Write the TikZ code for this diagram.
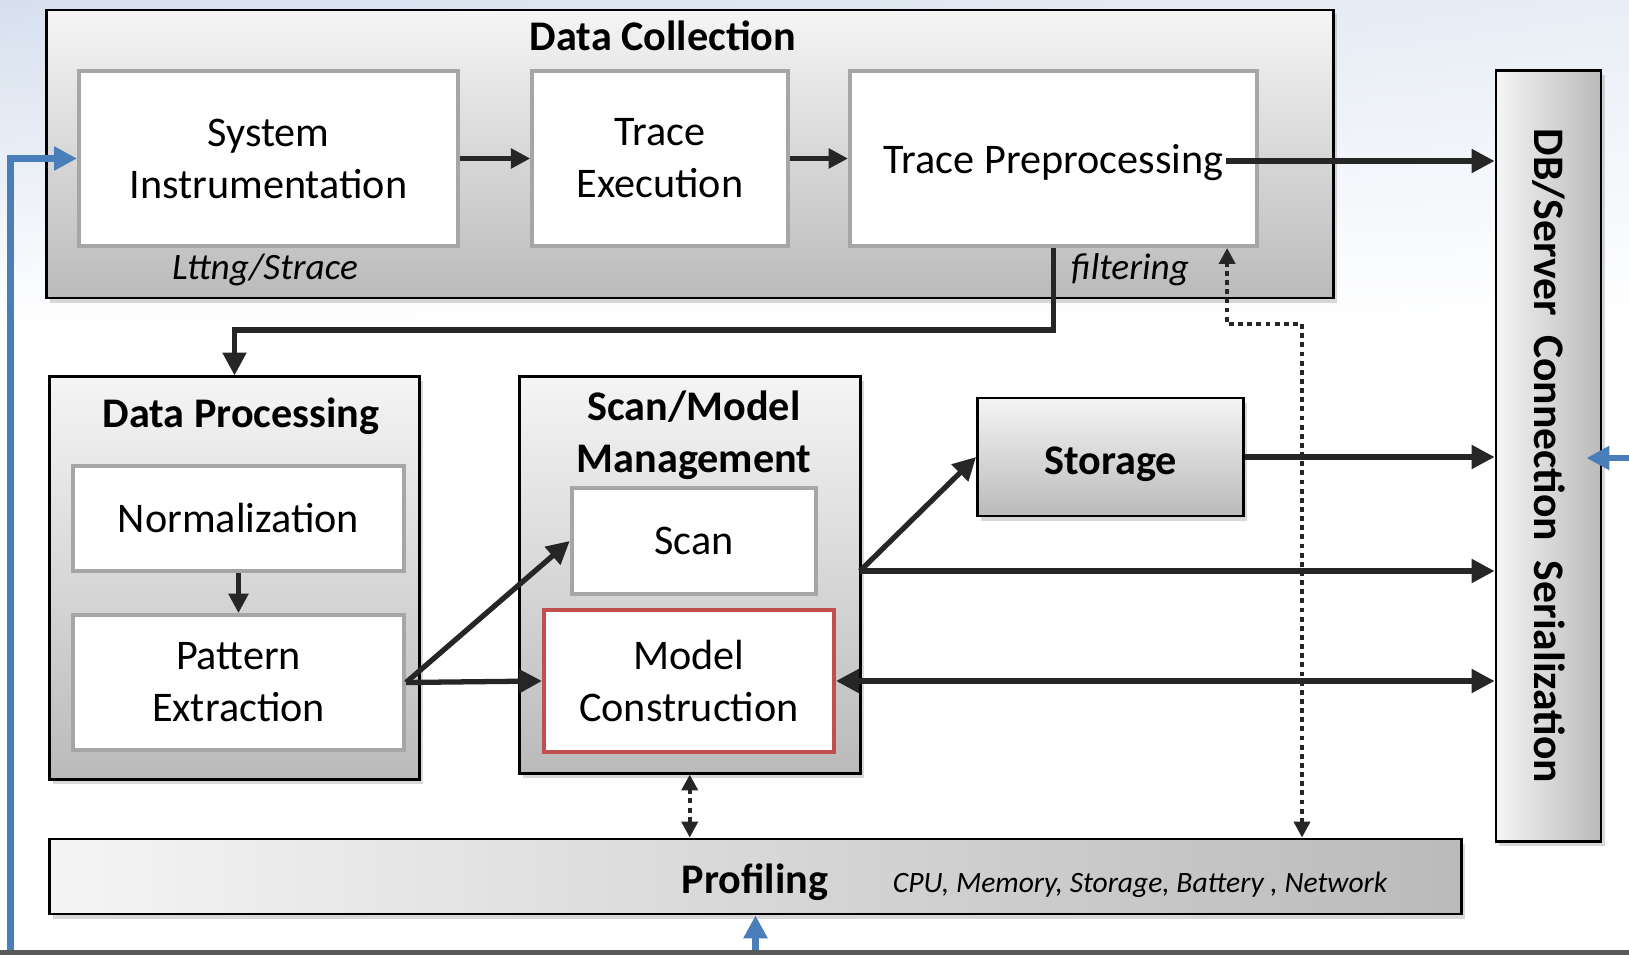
\documentclass[tikz,border=0pt]{standalone}
\usepackage{fontspec}
\setmainfont{Carlito}
\usepackage{graphicx}
\usetikzlibrary{positioning,calc,arrows.meta,shadows,shadings}

\definecolor{bgblue}{HTML}{D6E0EE}
\definecolor{linkblue}{HTML}{4A7EBB}
\definecolor{arrowgray}{HTML}{262626}
\definecolor{framegray}{HTML}{A6A6A6}
\definecolor{modelred}{HTML}{C0504D}
\definecolor{bandgray}{HTML}{595959}

\newcommand{\diafont}{\fontsize{12pt}{14.8pt}\selectfont}
\newcommand{\notefont}{\fontsize{8.4pt}{10pt}\selectfont}

\tikzset{
  blockbox/.style={draw=black, line width=0.8pt, top color=black!4, bottom color=black!27,
    drop shadow={shadow xshift=1pt, shadow yshift=-1.3pt, opacity=0.3}},
  sidebox/.style={draw=black, line width=0.8pt, left color=black!4, right color=black!27,
    drop shadow={shadow xshift=1pt, shadow yshift=-1.3pt, opacity=0.3}},
  stagebox/.style={draw=framegray, line width=1.1pt, fill=white, align=center, font=\diafont},
  titletext/.style={font=\diafont\bfseries, align=center},
  notetext/.style={font=\fontsize{10.6pt}{12pt}\selectfont\itshape},
  flow/.style={arrowgray, line width=1.5pt, -{Triangle[length=6.5pt,width=6.5pt]}},
  thinflow/.style={arrowgray, line width=1.3pt, -{Triangle[length=5.5pt,width=5.5pt]}},
  dotflow/.style={arrowgray, line width=1.2pt, dash pattern=on 1.4pt off 1.2pt,
    {Triangle[length=4.5pt,width=4.5pt]}-{Triangle[length=4.5pt,width=4.5pt]}},
  blueflow/.style={linkblue, line width=1.9pt, -{Triangle[length=6.5pt,width=6.5pt]}}
}

\begin{document}
\begin{tikzpicture}[x=0.01cm, y=-0.01cm]
  \useasboundingbox (0,0) rectangle (1629,955);
  % slide background
  \fill[white] (0,0) rectangle (1629,955);
  \shade[upper left=bgblue, upper right=bgblue!55, lower left=white, lower right=white] (0,0) rectangle (1629,330);

  % data collection
  \node[blockbox, minimum width=12.86cm, minimum height=2.88cm] (collect) at (690,154) {};
  \node[titletext] (collecttitle) at (663,36) {Data Collection};
  \node[stagebox, minimum width=3.79cm, minimum height=1.75cm] (instr) at (268.5,158.5) {System\\Instrumentation};
  \node[stagebox, minimum width=2.555cm, minimum height=1.75cm] (exec) at (660,158.5) {Trace\\Execution};
  \node[stagebox, text depth=0pt, minimum width=4.07cm, minimum height=1.75cm] (prep) at (1053.5,158.5) {Trace Preprocessing};
  \node[notetext] (tooltext) at (265,270) {Lttng/Strace};
  \node[notetext] (filtertext) at (1130,270) {filtering};

  % data processing
  \node[blockbox, minimum width=3.69cm, minimum height=4.02cm] (process) at (234.5,578) {};
  \node[titletext] (processtitle) at (241,416) {Data Processing};
  \node[stagebox, minimum width=3.31cm, minimum height=1.05cm] (norm) at (238.5,518.5) {Normalization};
  \node[stagebox, minimum width=3.31cm, minimum height=1.35cm] (pattern) at (238.5,682.5) {Pattern\\Extraction};

  % scan/model management
  \node[blockbox, minimum width=3.405cm, minimum height=3.96cm] (manage) at (689.75,575) {};
  \node[titletext] (managetitle) at (694,435) {Scan/Model\\Management};
  \node[stagebox, minimum width=2.445cm, minimum height=1.06cm] (scan) at (694,541) {Scan};
  \node[stagebox, draw=modelred, minimum width=2.9cm, minimum height=1.42cm] (model) at (689,681) {Model\\Construction};

  % storage, server, profiling
  \node[blockbox, titletext, text height=10.2pt, text depth=0pt, minimum width=2.66cm, minimum height=1.18cm] (storage) at (1110.6,457) {Storage};
  \node[sidebox, font=\fontsize{12.4pt}{15pt}\selectfont\bfseries, minimum width=1.05cm, minimum height=7.71cm] (server) at (1548.5,456)
    {\rotatebox{-90}{DB/Server\ \ Connection\ \ Serialization}};
  \node[sidebox, minimum width=14.11cm, minimum height=0.75cm] (profile) at (755.5,876.5) {};
  \node[titletext] (profiletitle) at (755,882) {Profiling};
  \node[font=\notefont\itshape] (resources) at (1140,885) {CPU, Memory, Storage, Battery , Network};

  % connectors
  \draw[thinflow] (instr.east) -- (exec.west);
  \draw[thinflow] (exec.east) -- (prep.west);
  \coordinate (prepout) at (1226,161);
  \draw[flow] (prepout) -- (prepout -| server.west);
  \draw[flow] (prep.south) -- ++(0,82) -| (process.north);
  \draw[thinflow] (norm.south) -- (pattern.north);
  \draw[flow] (pattern.east) -- (scan.west);
  \draw[flow] (pattern.east) -- (model.west);
  \coordinate (manageout) at (860,571);
  \draw[flow] (manageout) -- (storage.west);
  \draw[flow] (manageout) -- (manageout -| server.west);
  \draw[flow] (storage.east) -- (storage.east -| server.west);
  \draw[flow, {Triangle[length=6.5pt,width=6.5pt]}-{Triangle[length=6.5pt,width=6.5pt]}] (model.east) -- (model.east -| server.west);
  \draw[dotflow] (manage.south) -- (manage.south |- profile.north);
  \coordinate (dotbend) at (1302,324);
  \draw[dotflow] (dotbend |- profile.north) -- (dotbend) -| ([xshift=1.735cm]prep.south);

  % blue links from outside
  \coordinate (loopstart) at (10.4,955);
  \draw[blueflow] (loopstart) |- (instr.west);
  \coordinate (profilein) at (755.5,955);
  \draw[blueflow] (profilein) -- (profile.south);
  \coordinate (serverin) at (1629,458);
  \draw[blueflow] (serverin) -- ($(serverin -| server.east)+(-16,0)$);

  % bottom band
  \fill[bandgray] (0,950) rectangle (1629,955);
\end{tikzpicture}
\end{document}
